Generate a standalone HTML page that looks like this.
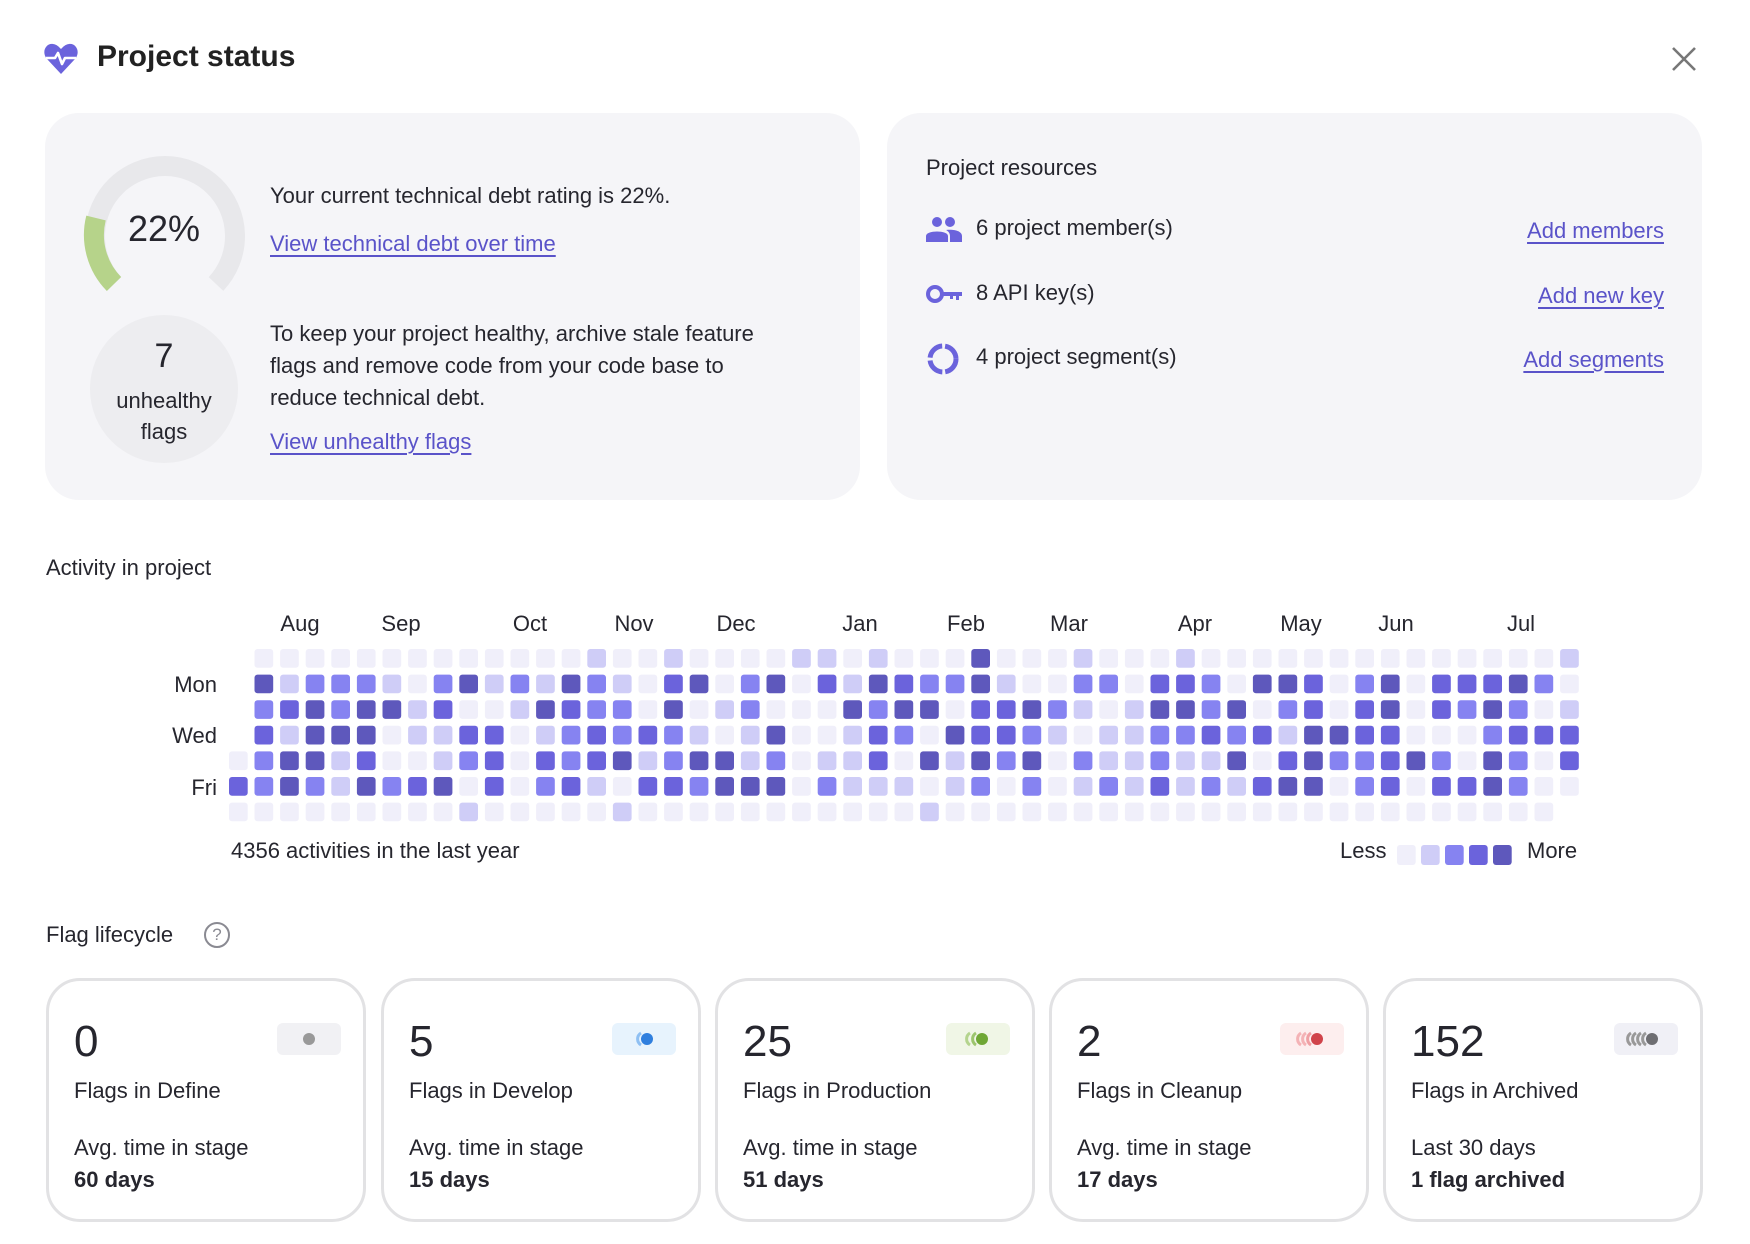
<!DOCTYPE html>
<html><head><meta charset="utf-8">
<style>
*{margin:0;padding:0;box-sizing:border-box}
body{width:1750px;height:1244px;background:#fff;font-family:"Liberation Sans",sans-serif;color:#26262e;position:relative;overflow:hidden}
.a{position:absolute;white-space:nowrap}
.card{position:absolute;background:#f5f5f8;border-radius:34px}
a,.lnk{color:#5a53c9;text-decoration:underline;text-decoration-thickness:2px;text-underline-offset:4px}
.t22{font-size:22px}
.fc{position:absolute;top:978px;width:320px;height:244px;border:3px solid #e2e2e4;border-radius:34px;background:#fff}
.fc .n{position:absolute;left:25px;top:36px;font-size:44px;line-height:50px}
.fc .l{position:absolute;left:25px;top:97px;font-size:22px}
.fc .s{position:absolute;left:25px;top:154px;font-size:22px}
.fc .b{position:absolute;left:25px;top:186px;font-size:22px;font-weight:bold}
.fc .bd{position:absolute;left:228px;top:42px;width:64px;height:32px;border-radius:6px}
</style></head><body>

<svg class="a" style="left:44px;top:43px" width="34" height="32" viewBox="0 0 34 32">
<path d="M17 31 L3 16 C-3 9 2 0 9 1 C13 1.5 15 4 17 6 C19 4 21 1.5 25 1 C32 0 37 9 31 16 Z" fill="#6b63dc"/>
<polyline points="2,15 11,15 14,10 18,21 21,15 32,15" fill="none" stroke="#fff" stroke-width="2.6" stroke-linejoin="round"/>
</svg>
<div class="a" style="left:97px;top:40px;font-size:30px;font-weight:bold;color:#222">Project status</div>
<svg class="a" style="left:1671px;top:46px" width="26" height="26"><path d="M2 2L24 24M24 2L2 24" stroke="#777" stroke-width="2.6"/></svg>

<div class="card" style="left:45px;top:113px;width:815px;height:387px"></div>
<div class="card" style="left:887px;top:113px;width:815px;height:387px"></div>

<svg class="a" style="left:80px;top:150px" width="170" height="170" viewBox="0 0 170 170">
<path d="M34 134 A70 70 0 1 1 136 134" fill="none" stroke="#e8e8eb" stroke-width="20"/>
<path d="M34 134 A70 70 0 0 1 16 68" fill="none" stroke="#b6d38a" stroke-width="20"/>
</svg>
<div class="a" style="left:114px;top:208px;width:100px;text-align:center;font-size:36px">22%</div>
<div class="a" style="left:90px;top:315px;width:148px;height:148px;border-radius:50%;background:#ededf0"></div>
<div class="a" style="left:114px;top:337px;width:100px;text-align:center;font-size:34px">7</div>
<div class="a" style="left:104px;top:388px;width:120px;text-align:center;font-size:22px">unhealthy</div>
<div class="a" style="left:104px;top:419px;width:120px;text-align:center;font-size:22px">flags</div>

<div class="a t22" style="left:270px;top:183px">Your current technical debt rating is 22%.</div>
<div class="a t22 lnk" style="left:270px;top:231px">View technical debt over time</div>
<div class="a t22" style="left:270px;top:318px;line-height:32px">To keep your project healthy, archive stale feature<br>flags and remove code from your code base to<br>reduce technical debt.</div>
<div class="a t22 lnk" style="left:270px;top:429px">View unhealthy flags</div>

<div class="a t22" style="left:926px;top:155px">Project resources</div>
<svg class="a" style="left:926px;top:216px" width="36" height="26" viewBox="0 0 36 26">
<circle cx="11" cy="6" r="5" fill="#6b63dc"/><circle cx="24" cy="6" r="5" fill="#6b63dc"/>
<path d="M0 26 V20 C0 14 22 14 22 20 V26Z" fill="#6b63dc"/><path d="M24 26 V20 C24 17 22 15 20 14 C28 13 36 15 36 20 V26Z" fill="#6b63dc"/></svg>
<div class="a t22" style="left:976px;top:215px">6 project member(s)</div>
<div class="a t22 lnk" style="right:86px;top:218px">Add members</div>
<svg class="a" style="left:926px;top:284px" width="36" height="20" viewBox="0 0 36 20">
<circle cx="9" cy="10" r="7" fill="none" stroke="#6b63dc" stroke-width="4"/><path d="M16 8H36V12H33V16H30V12H27V15H24V12H16Z" fill="#6b63dc"/></svg>
<div class="a t22" style="left:976px;top:280px">8 API key(s)</div>
<div class="a t22 lnk" style="right:86px;top:283px">Add new key</div>
<svg class="a" style="left:926px;top:342px" width="34" height="34" viewBox="0 0 34 34">
<circle cx="17" cy="17" r="13" fill="none" stroke="#6b63dc" stroke-width="5" stroke-dasharray="18 3"/></svg>
<div class="a t22" style="left:976px;top:344px">4 project segment(s)</div>
<div class="a t22 lnk" style="right:86px;top:347px">Add segments</div>

<div class="a t22" style="left:46px;top:555px">Activity in project</div>
<div id="months"></div>
<div class="a t22" style="right:1533px;top:672px">Mon</div>
<div class="a t22" style="right:1533px;top:723px">Wed</div>
<div class="a t22" style="right:1533px;top:775px">Fri</div>
<svg class="a" id="grid" style="left:0;top:0" width="1750" height="900"></svg>
<div class="a t22" style="left:231px;top:838px">4356 activities in the last year</div>
<div class="a t22" style="left:1340px;top:838px">Less</div>
<div class="a t22" style="left:1527px;top:838px">More</div>

<div class="a t22" style="left:46px;top:922px">Flag lifecycle</div>
<div class="a" style="left:204px;top:922px;width:26px;height:26px;border:2.5px solid #8a8a92;border-radius:50%;color:#8a8a92;font-size:17px;text-align:center;line-height:21px">?</div>

<div class="fc" style="left:46px"><div class="n">0</div><div class="bd" style="background:#f1f1f4"><svg width="64" height="32"><circle cx="32" cy="16" r="6" fill="#999"/></svg></div><div class="l">Flags in Define</div><div class="s">Avg. time in stage</div><div class="b">60 days</div></div>
<div class="fc" style="left:381px"><div class="n">5</div><div class="bd" style="background:#e7f3fd"><svg width="64" height="32"><path d="M29 10 A7 7 0 0 0 29 22" fill="none" stroke="#8fc0f3" stroke-width="3"/><circle cx="35" cy="16" r="6" fill="#2f7fde"/></svg></div><div class="l">Flags in Develop</div><div class="s">Avg. time in stage</div><div class="b">15 days</div></div>
<div class="fc" style="left:715px"><div class="n">25</div><div class="bd" style="background:#f0f6e6"><svg width="64" height="32"><path d="M24 10 A7 7 0 0 0 24 22" fill="none" stroke="#b4d48e" stroke-width="3"/><path d="M30 10 A7 7 0 0 0 30 22" fill="none" stroke="#9cc56d" stroke-width="3"/><circle cx="36" cy="16" r="6" fill="#6fa735"/></svg></div><div class="l">Flags in Production</div><div class="s">Avg. time in stage</div><div class="b">51 days</div></div>
<div class="fc" style="left:1049px"><div class="n">2</div><div class="bd" style="background:#fdeeee"><svg width="64" height="32"><path d="M21 10 A7 7 0 0 0 21 22" fill="none" stroke="#f4b3b6" stroke-width="3"/><path d="M26 10 A7 7 0 0 0 26 22" fill="none" stroke="#f4b3b6" stroke-width="3"/><path d="M31 10 A7 7 0 0 0 31 22" fill="none" stroke="#f0a0a4" stroke-width="3"/><circle cx="37" cy="16" r="6" fill="#d0434a"/></svg></div><div class="l">Flags in Cleanup</div><div class="s">Avg. time in stage</div><div class="b">17 days</div></div>
<div class="fc" style="left:1383px"><div class="n">152</div><div class="bd" style="background:#f0f0f6"><svg width="64" height="32"><path d="M17 10 A7 7 0 0 0 17 22" fill="none" stroke="#999" stroke-width="3"/><path d="M22 10 A7 7 0 0 0 22 22" fill="none" stroke="#999" stroke-width="3"/><path d="M27 10 A7 7 0 0 0 27 22" fill="none" stroke="#999" stroke-width="3"/><path d="M32 10 A7 7 0 0 0 32 22" fill="none" stroke="#999" stroke-width="3"/><circle cx="38" cy="16" r="6" fill="#6e6e72"/></svg></div><div class="l">Flags in Archived</div><div class="s">Last 30 days</div><div class="b">1 flag archived</div></div>

<script>
var C=["#f0effa","#cfcdf7","#8683f1","#6b63dc","#5e58bc"];
var R=[
"0000000000000100100001101"+"000400010001000000000000001",
"4122210241214210340240314"+"322410022033204430240333420",
"2342441300143220401200042"+"440334210144240230340324201",
"3144401133012323210140013"+"204332101122323144330002333",
"2441300123032341244120113"+"041424021121140342234204203",
"2421423403023103324440211"+"101202012131213440230334200",
"0000000010000010000000000"+"01000000000000000000000000"
];
var s="";
for(var r=0;r<7;r++){for(var k=0;k<52;k++){var v=R[r].charAt(k);if(v===""||(r==6&&k>50))continue;
s+='<rect x="'+(254.5+25.6*k).toFixed(1)+'" y="'+(649+25.6*r).toFixed(1)+'" width="18.7" height="18.7" rx="3" fill="'+C[+v]+'"/>';}}
var p=[[4,0],[5,3],[6,0]];
p.forEach(function(q){s+='<rect x="229" y="'+(649+25.6*q[0]).toFixed(1)+'" width="18.7" height="18.7" rx="3" fill="'+C[q[1]]+'"/>';});
for(var i=0;i<5;i++)s+='<rect x="'+(1397+24*i)+'" y="845" width="18.7" height="20" rx="3" fill="'+C[i]+'"/>';
document.getElementById("grid").innerHTML=s;
var M=[["Aug",300],["Sep",401],["Oct",530],["Nov",634],["Dec",736],["Jan",860],["Feb",966],["Mar",1069],["Apr",1195],["May",1301],["Jun",1396],["Jul",1521]];
var h="";M.forEach(function(m){h+='<div class="a t22" style="left:'+(m[1]-40)+'px;width:80px;text-align:center;top:611px">'+m[0]+'</div>';});
document.getElementById("months").innerHTML=h;
</script>
</body></html>
